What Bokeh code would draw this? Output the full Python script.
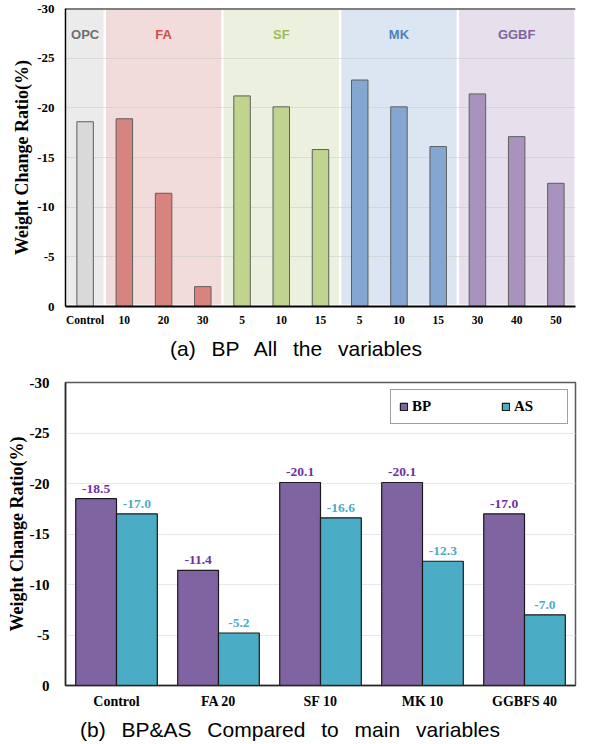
from bokeh.plotting import figure
from bokeh.models import (Range1d, FixedTicker, Span, LabelSet, Div,
                          ColumnDataSource, FactorRange)
from bokeh.transform import dodge
from bokeh.layouts import column
from bokeh.core.properties import value
from bokeh.embed import file_html
from bokeh.resources import INLINE

# ---------------- data: chart (a) ----------------
top_labels = ["Control", "10", "20", "30", "5", "10", "15", "5", "10", "15", "30", "40", "50"]
top_values = [-18.6, -18.9, -11.4, -2.0, -21.2, -20.1, -15.8, -22.8, -20.1, -16.1, -21.4, -17.1, -12.4]
group_names = ["OPC", "FA", "SF", "MK", "GGBF"]
group_sizes = [1, 3, 3, 3, 3]
y_ticks = [0, -5, -10, -15, -20, -25, -30]

# ---------------- data: chart (b) ----------------
cats = ["Control", "FA 20", "SF 10", "MK 10", "GGBFS 40"]
bp_values = [-18.5, -11.4, -20.1, -20.1, -17.0]
as_values = [-17.0, -5.2, -16.6, -12.3, -7.0]

caption_a = "(a) BP All the variables"
caption_b = "(b) BP&AS Compared to main variables"

# ---------------- styles ----------------
band_colors = ["#ebebeb", "#f2dcdb", "#ebf1de", "#dce6f2", "#e5e0ec"]
bar_colors = ["#d9d9d9", "#d7847f", "#c0d48f", "#84a7d1", "#a893bf"]
group_text_colors = ["#6e6e6e", "#cc4e4a", "#9bbb59", "#4f81bd", "#8064a2"]
SERIF = "Liberation Serif"
SANS = "Liberation Sans"
BP_COLOR = "#8064a2"
AS_COLOR = "#4bacc6"
CAPTION_STYLE = {"font-family": "'Liberation Sans', Arial, sans-serif", "font-size": "21px",
                 "line-height": "26px", "text-align": "center", "color": "black",
                 "word-spacing": "10px"}
y_tick_text = {t: str(t) for t in y_ticks}

# ================= chart (a) =================
p1 = figure(width=592, height=336, x_range=Range1d(-0.5, 12.5), y_range=Range1d(0, -30),
            output_backend="svg", toolbar_location=None,
            min_border_left=64, min_border_right=0, min_border_top=8, min_border_bottom=30)
p1.outline_line_color = None
p1.background_fill_color = "white"

# group bands
starts, ends, centers, colors_per_bar = [], [], [], []
pos = 0
for gi, n in enumerate(group_sizes):
    starts.append(pos - 0.5 + 0.03)
    ends.append(pos + n - 0.5 - 0.03)
    centers.append(pos + (n - 1) / 2)
    colors_per_bar += [bar_colors[gi]] * n
    pos += n
p1.quad(left=starts, right=ends, bottom=-0.2, top=-29.85, fill_color=band_colors,
        line_color=None, level="image")

p1.vbar(x=list(range(len(top_values))), top=top_values, bottom=0, width=0.42,
        fill_color=colors_per_bar, line_color="#5e5e5e", line_width=1)

p1.text(x=centers, y=[-27.4] * len(centers), text=group_names, text_color=group_text_colors,
        text_font=value(SANS), text_font_style="bold", text_font_size="13px",
        text_align="center", text_baseline="middle")

p1.add_layout(Span(location=-30, dimension="width", line_color="black", line_width=2))

p1.xaxis.ticker = FixedTicker(ticks=list(range(len(top_labels))))
p1.xaxis.major_label_overrides = {i: l for i, l in enumerate(top_labels)}
p1.yaxis.ticker = FixedTicker(ticks=y_ticks)
p1.yaxis.major_label_overrides = y_tick_text
for ax in (p1.xaxis, p1.yaxis):
    ax.major_tick_out = 0
    ax.major_tick_in = 0
    ax.minor_tick_out = 0
    ax.minor_tick_in = 0
    ax.axis_line_color = "black"
    ax.major_label_text_font = SERIF
    ax.major_label_text_font_style = "bold"
    ax.major_label_text_color = "black"
p1.xaxis.axis_line_width = 2
p1.yaxis.axis_line_width = 1.5
p1.xaxis.major_label_text_font_size = "11.5px"
p1.xaxis.major_label_standoff = 7
p1.yaxis.major_label_text_font_size = "13px"
p1.yaxis.major_label_standoff = 11
p1.yaxis.axis_label = "Weight Change Ratio(%)"
p1.yaxis.axis_label_text_font = SERIF
p1.yaxis.axis_label_text_font_style = "bold"
p1.yaxis.axis_label_text_font_size = "18px"
p1.yaxis.axis_label_text_color = "black"
p1.yaxis.axis_label_standoff = 2
p1.xgrid.visible = False
p1.ygrid.grid_line_color = "#c8c8c8"
p1.ygrid.grid_line_alpha = 0.55

cap1 = Div(text=caption_a, width=592, height=26, margin=0, styles=CAPTION_STYLE)

# ================= chart (b) =================
src = ColumnDataSource(dict(
    cat=cats, bp=bp_values, as_=as_values,
    bp_lbl=[f"{v:.1f}" for v in bp_values],
    as_lbl=[f"{v:.1f}" for v in as_values],
))

p2 = figure(width=592, height=355, x_range=FactorRange(*cats), y_range=Range1d(0, -30),
            output_backend="svg", toolbar_location=None,
            min_border_left=65, min_border_right=17, min_border_top=20, min_border_bottom=32)
p2.outline_line_color = "#595959"
p2.outline_line_width = 1.5

p2.vbar(x=dodge("cat", -0.2, range=p2.x_range), top="bp", bottom=0, width=0.4, source=src,
        fill_color=BP_COLOR, line_color="#1a1a1a", line_width=1.2, legend_label="BP")
p2.vbar(x=dodge("cat", 0.2, range=p2.x_range), top="as_", bottom=0, width=0.4, source=src,
        fill_color=AS_COLOR, line_color="#1a1a1a", line_width=1.2, legend_label="AS")

p2.add_layout(LabelSet(x=dodge("cat", -0.2, range=p2.x_range), y="bp", text="bp_lbl", source=src,
                       y_offset=6, text_align="center", text_baseline="alphabetic",
                       text_font=SERIF, text_font_style="bold", text_font_size="13.5px",
                       text_color="#7030a0"))
p2.add_layout(LabelSet(x=dodge("cat", 0.2, range=p2.x_range), y="as_", text="as_lbl", source=src,
                       y_offset=6, text_align="center", text_baseline="alphabetic",
                       text_font=SERIF, text_font_style="bold", text_font_size="13.5px",
                       text_color="#4bacc6"))

p2.yaxis.ticker = FixedTicker(ticks=y_ticks)
p2.yaxis.major_label_overrides = y_tick_text
for ax in (p2.xaxis, p2.yaxis):
    ax.major_tick_out = 0
    ax.major_tick_in = 0
    ax.minor_tick_out = 0
    ax.minor_tick_in = 0
    ax.axis_line_color = "#262626"
    ax.axis_line_width = 1.5
    ax.major_label_text_font = SERIF
    ax.major_label_text_font_style = "bold"
    ax.major_label_text_color = "black"
    ax.major_label_text_font_size = "14px"
p2.yaxis.major_label_text_font_size = "15px"
p2.xaxis.major_label_standoff = 8
p2.yaxis.major_label_standoff = 16
p2.yaxis.axis_label = "Weight Change Ratio(%)"
p2.yaxis.axis_label_text_font = SERIF
p2.yaxis.axis_label_text_font_style = "bold"
p2.yaxis.axis_label_text_font_size = "18px"
p2.yaxis.axis_label_text_color = "black"
p2.yaxis.axis_label_standoff = 0
p2.xgrid.visible = False
p2.ygrid.grid_line_color = "#e8e8e8"

lg = p2.legend[0]
lg.location = "top_right"
lg.orientation = "horizontal"
lg.margin = 7
lg.padding = 8
lg.spacing = 44
lg.label_standoff = 4
lg.glyph_width = 9
lg.glyph_height = 9
lg.label_width = 45
lg.label_height = 14
lg.label_text_font = SERIF
lg.label_text_font_style = "bold"
lg.label_text_font_size = "15px"
lg.label_text_color = "black"
lg.border_line_color = "#404040"
lg.border_line_width = 1.5
lg.background_fill_alpha = 1.0

cap2 = Div(text=caption_b, width=580, height=26, margin=0, styles=CAPTION_STYLE)

layout = column(p1, cap1, p2, cap2, spacing=0)
open("out.html", "w").write(file_html(layout, INLINE))
